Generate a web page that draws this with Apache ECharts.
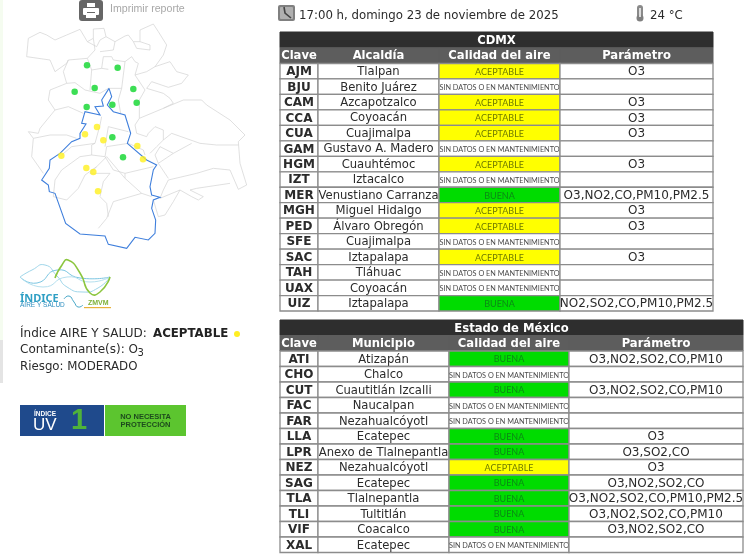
<!DOCTYPE html>
<html>
<head>
<meta charset="utf-8">
<style>html,body{margin:0;padding:0;background:#fff}#chart{width:750px;height:556px}</style>
<script src="https://cdn.jsdelivr.net/npm/echarts@6/dist/echarts.min.js"></script>
</head>
<body>
<div id="chart"></div>
<script>
// Station readings
const ACE = 'ACEPTABLE';
const BUE = 'BUENA';
const SIN = 'SIN DATOS O EN MANTENIMIENTO';

const cdmxClaves = ['AJM','BJU','CAM','CCA','CUA','GAM','HGM','IZT','MER','MGH','PED','SFE','SAC','TAH','UAX','UIZ'];
const cdmxNombres = ['Tlalpan','Benito Juárez','Azcapotzalco','Coyoacán','Cuajimalpa','Gustavo A. Madero','Cuauhtémoc','Iztacalco','Venustiano Carranza','Miguel Hidalgo','Álvaro Obregón','Cuajimalpa','Iztapalapa','Tláhuac','Coyoacán','Iztapalapa'];
const cdmxCalidad = [ACE,SIN,ACE,ACE,ACE,SIN,ACE,SIN,BUE,ACE,ACE,SIN,ACE,SIN,SIN,BUE];
const cdmxParametro = ['O3','','O3','O3','O3','','O3','','O3,NO2,CO,PM10,PM2.5','O3','O3','','O3','','','NO2,SO2,CO,PM10,PM2.5'];

const edomexClaves = ['ATI','CHO','CUT','FAC','FAR','LLA','LPR','NEZ','SAG','TLA','TLI','VIF','XAL'];
const edomexNombres = ['Atizapán','Chalco','Cuautitlán Izcalli','Naucalpan','Nezahualcóyotl','Ecatepec','Anexo de Tlalnepantla','Nezahualcóyotl','Ecatepec','Tlalnepantla','Tultitlán','Coacalco','Ecatepec'];
const edomexCalidad = [BUE,SIN,BUE,SIN,SIN,BUE,BUE,ACE,BUE,BUE,BUE,BUE,SIN];
const edomexParametro = ['O3,NO2,SO2,CO,PM10','','O3,NO2,SO2,CO,PM10','','','O3','O3,SO2,CO','O3','O3,NO2,SO2,CO','O3,NO2,SO2,CO,PM10,PM2.5','O3,NO2,SO2,CO,PM10','O3,NO2,SO2,CO',''];

// Map stations and borders, in map units
const estacionesBuena = [[261,196],[353,203],[400,267],[410,308],[284,264],[224,275],[260,321],[337,314],[337,412],[369,472]];
const estacionesAceptable = [[291,381],[255,403],[310,421],[184,467],[259,504],[280,516],[294,574],[412,438],[429,478]];

const limiteCdmx = [[327,265],[305,300],[310,318],[285,320],[300,345],[255,335],[245,370],[258,372],[240,400],[240,415],[215,425],[180,460],[150,480],[148,505],[125,540],[145,555],[148,575],[165,580],[197,670],[240,702],[315,708],[325,733],[380,745],[405,712],[445,720],[465,700],[467,660],[455,625],[460,600],[480,592],[455,585],[450,560],[460,510],[470,495],[440,480],[382,430],[392,400],[375,345],[340,335],[322,315],[335,290],[327,265]];

const limitesMunicipios = [
  [[80,170],[85,115],[120,97],[140,105],[165,120],[200,105],[240,88],[262,125],[280,115],[280,87],[312,85],[318,110],[345,125],[375,108],[385,105],[400,125],[420,125],[420,90],[460,72],[475,95],[500,135],[490,165],[465,200],[510,185],[530,215],[565,225],[545,250],[505,262],[455,245],[440,265],[490,280],[510,295],[520,310],[490,325],[418,355]],
  [[80,170],[150,180],[165,215],[200,190],[205,180],[262,175],[285,150],[280,115]],
  [[262,125],[290,140],[300,120],[318,110]],
  [[300,155],[340,150],[345,125]],
  [[420,125],[450,135],[450,150],[410,145],[400,125]],
  [[205,180],[190,215],[200,250],[225,248],[255,270],[300,280],[325,265]],
  [[150,270],[200,250]],
  [[150,270],[145,300],[165,330],[205,320],[250,340]],
  [[165,330],[120,385],[115,400],[85,395],[100,415],[95,470],[130,520]],
  [[100,415],[150,405],[200,405],[230,415]],
  [[262,175],[275,210],[305,205],[310,170],[335,170],[340,180],[375,185],[365,265],[325,265]],
  [[325,208],[305,205]],
  [[275,210],[270,270]],
  [[375,185],[395,170],[405,185],[415,190],[405,225],[440,215],[465,200]],
  [[405,225],[435,270],[418,300],[418,355]],
  [[365,265],[355,300],[362,340]],
  [[418,355],[405,375],[410,400],[440,410],[445,400],[465,380],[490,390],[490,420],[470,440],[450,460]],
  [[490,325],[550,300],[605,300],[620,315],[690,360],[735,405],[715,425],[720,490],[740,555],[715,568],[690,510],[640,505],[590,520],[505,540],[490,570],[480,595]],
  [[490,420],[515,400],[600,430],[650,435],[715,435]],
  [[520,460],[575,430]],
  [[520,460],[480,440],[465,465],[475,490],[520,460]],
  [[475,490],[505,535]],
  [[690,550],[590,565],[570,570],[610,590],[595,600],[575,590],[540,570],[480,595]],
  [[540,570],[520,605],[495,645],[475,650],[460,600]],
  [[305,350],[300,375],[285,430],[275,435],[275,465],[315,470],[320,440],[385,430]],
  [[325,380],[385,395]],
  [[325,380],[315,440]],
  [[285,430],[215,440],[185,465]],
  [[275,465],[240,470],[185,510],[165,540],[160,590],[200,600],[235,565],[255,525],[290,500],[320,470]],
  [[320,470],[375,535],[425,580],[340,605],[320,655],[295,685]],
  [[315,470],[340,510],[375,520],[375,535]],
  [[375,520],[460,500]],
  [[290,500],[270,520],[330,520],[310,545],[300,590],[320,610],[325,650]],
  [[385,430],[430,450],[435,465]],
  [[425,580],[455,590]]
];

// Colours by air quality
const calidadFill = { [ACE]: '#ffff00', [BUE]: '#00dc00', [SIN]: '#ffffff' };
const calidadText = { [ACE]: '#6f7a00', [BUE]: '#0a8a14', [SIN]: '#4a4a4a' };

const TEXT_FONT = '"DejaVu Sans", sans-serif';
const TEXT_COLOR = '#2b2b2b';

const chart = echarts.init(document.querySelector('#chart'), null, { renderer: 'canvas' });

const option = {
  animation: false,
  backgroundColor: '#ffffff',
  grid: [],
  xAxis: [],
  yAxis: [],
  series: [],
  graphic: []
};

/**
 * Adds a hidden pair of axes and returns its index
 */
function addGrid(rect, xMax, yAxis) {
  option.grid.push(Object.assign({ show: false }, rect));
  option.xAxis.push({ type: 'value', gridIndex: option.grid.length - 1, min: 0, max: xMax, show: false });
  option.yAxis.push(Object.assign({ gridIndex: option.grid.length - 1, show: false }, yAxis));
  return option.grid.length - 1;
}

/**
 * Draws a cell as a rect with centered text
 */
function cellShape(api, from, to, row, style) {
  const start = api.coord([from, row]);
  const end = api.coord([to, row]);
  const bandHeight = api.size([0, 1])[1];
  return {
    type: 'group',
    children: [
      {
        type: 'rect',
        shape: { x: start[0], y: start[1] - bandHeight / 2, width: end[0] - start[0], height: bandHeight },
        style: { fill: style.fill, stroke: style.stroke, lineWidth: style.lineWidth }
      },
      {
        type: 'text',
        x: (start[0] + end[0]) / 2,
        y: start[1] + 0.8,
        scaleX: style.scaleX || 1,
        style: {
          text: style.text,
          align: 'center',
          verticalAlign: 'middle',
          font: style.font,
          fill: style.color
        }
      }
    ]
  };
}

/**
 * Adds a complete table: title, header and body
 */
function addTable(table) {
  const width = table.edges[table.edges.length - 1];

  // Title and header rows
  const headIndex = addGrid(
    { left: table.left, top: table.top, width: width, height: table.headHeight },
    width,
    { type: 'category', inverse: true, data: ['titulo', 'cabecera'] }
  );
  const headCells = [[0, width, 0, table.title]];
  table.headers.forEach((header, i) => headCells.push([table.edges[i], table.edges[i + 1], 1, header]));
  option.series.push({
    type: 'custom',
    xAxisIndex: headIndex,
    yAxisIndex: headIndex,
    silent: true,
    data: headCells.map((cell, i) => [i]),
    encode: { x: [], y: [] },
    clip: false,
    renderItem: (params, api) => {
      const cell = headCells[api.value(0)];
      const isTitle = cell[2] === 0;
      return cellShape(api, cell[0], cell[1], cell[2], {
        fill: isTitle ? '#2e2e2e' : '#5d5d5d',
        stroke: isTitle ? '#2e2e2e' : '#5d5d5d',
        lineWidth: 1,
        text: cell[3],
        font: 'bold 11.6px ' + TEXT_FONT,
        color: '#ffffff'
      });
    }
  });

  // Body rows
  const bodyIndex = addGrid(
    { left: table.left, top: table.top + table.headHeight, width: width, height: table.bodyHeight },
    width,
    { type: 'category', inverse: true, data: table.claves }
  );
  const bodyCells = [];
  table.claves.forEach((clave, row) => {
    bodyCells.push([0, row, clave, 'bold 12px ' + TEXT_FONT, TEXT_COLOR, '#ffffff']);
    bodyCells.push([1, row, table.nombres[row], '11.6px ' + TEXT_FONT, TEXT_COLOR, '#ffffff']);
    const calidad = table.calidad[row];
    bodyCells.push([2, row, calidad, (calidad === SIN ? '8.4px' : '9px') + ' Lato, sans-serif', calidadText[calidad], calidadFill[calidad], calidad === SIN ? 0.87 : 1]);
    bodyCells.push([3, row, table.parametro[row], '12px ' + TEXT_FONT, TEXT_COLOR, '#ffffff']);
  });
  option.series.push({
    type: 'custom',
    xAxisIndex: bodyIndex,
    yAxisIndex: bodyIndex,
    silent: true,
    data: bodyCells.map((cell, i) => [i]),
    encode: { x: [], y: [] },
    clip: false,
    renderItem: (params, api) => {
      const cell = bodyCells[api.value(0)];
      return cellShape(api, table.edges[cell[0]], table.edges[cell[0] + 1], cell[1], {
        fill: cell[5],
        stroke: '#8c8c8c',
        lineWidth: 1.3,
        text: cell[2],
        font: cell[3],
        color: cell[4],
        scaleX: cell[6]
      });
    }
  });
}

addTable({
  title: 'CDMX',
  headers: ['Clave', 'Alcaldía', 'Calidad del aire', 'Parámetro'],
  claves: cdmxClaves,
  nombres: cdmxNombres,
  calidad: cdmxCalidad,
  parametro: cdmxParametro,
  left: 280,
  top: 32,
  headHeight: 31.5,
  bodyHeight: 247.5,
  edges: [0, 38, 159, 280, 433]
});

addTable({
  title: 'Estado de México',
  headers: ['Clave', 'Municipio', 'Calidad del aire', 'Parámetro'],
  claves: edomexClaves,
  nombres: edomexNombres,
  calidad: edomexCalidad,
  parametro: edomexParametro,
  left: 280,
  top: 320,
  headHeight: 31,
  bodyHeight: 201.5,
  edges: [0, 38, 169, 289, 463]
});

// Map
const mapIndex = addGrid(
  { left: 0, top: 0, width: 270, height: 260 },
  810,
  { type: 'value', inverse: true, min: 0, max: 780 }
);
option.series.push(
  {
    type: 'lines',
    coordinateSystem: 'cartesian2d',
    xAxisIndex: mapIndex,
    yAxisIndex: mapIndex,
    polyline: true,
    silent: true,
    data: limitesMunicipios.map((coords) => ({ coords })),
    lineStyle: { color: '#d2d2d2', width: 0.7, opacity: 1 }
  },
  {
    type: 'lines',
    coordinateSystem: 'cartesian2d',
    xAxisIndex: mapIndex,
    yAxisIndex: mapIndex,
    polyline: true,
    silent: true,
    data: [{ coords: limiteCdmx }],
    lineStyle: { color: '#3f7fdc', width: 1.1, opacity: 1 }
  },
  {
    type: 'scatter',
    xAxisIndex: mapIndex,
    yAxisIndex: mapIndex,
    silent: true,
    symbolSize: 6.5,
    data: estacionesBuena,
    itemStyle: { color: '#0cd62a' }
  },
  {
    type: 'scatter',
    xAxisIndex: mapIndex,
    yAxisIndex: mapIndex,
    silent: true,
    symbolSize: 6.5,
    data: estacionesAceptable,
    itemStyle: { color: '#fff01e' }
  }
);

/**
 * Shorthand for a text element in the page furniture
 */
function label(text, x, y, font, fill, align) {
  return { type: 'text', x: x, y: y, silent: true, style: { text: text, font: font, fill: fill, align: align || 'left', verticalAlign: 'middle' } };
}

function wave(points, stroke, lineWidth) {
  return { type: 'polyline', silent: true, shape: { points: points, smooth: 0.6 }, style: { stroke: stroke, lineWidth: lineWidth, fill: null } };
}

function box(x, y, width, height, fill, r) {
  return { type: 'rect', silent: true, shape: { x: x, y: y, width: width, height: height, r: r || 0 }, style: { fill: fill } };
}

option.graphic = [
  // Page edge
  box(0, 0, 3, 340, '#f5fcf0'),
  box(0, 340, 3, 43, '#e4e4e4'),

  // Print button
  box(79, 0, 24, 21, '#666666', 3),
  box(87, 3, 8, 4, '#ffffff'),
  box(83, 8, 16, 7, '#ffffff', 1),
  box(86, 13, 10, 5, '#ffffff'),
  box(87, 12, 8, 1, '#666666'),
  label('Imprimir reporte', 110, 9.5, '10.6px "Liberation Sans", sans-serif', '#a8a8a8'),

  // Date and temperature
  box(278, 5, 17, 16, '#808080', 2),
  box(280, 7, 13, 12, '#b0b0b0', 1),
  { type: 'polyline', silent: true, shape: { points: [[284, 7], [285, 13], [291, 18]] }, style: { stroke: '#444444', lineWidth: 1.6, fill: null } },
  label('17:00 h, domingo 23 de noviembre de 2025', 299, 15.5, '11.75px ' + TEXT_FONT, TEXT_COLOR),
  box(637, 5, 6, 13, '#8a8a8a', 3),
  { type: 'circle', silent: true, shape: { cx: 640, cy: 18, r: 3.5 }, style: { fill: '#808080' } },
  box(639, 8, 2, 9, '#dddddd'),
  label('24 °C', 650, 15.5, '11.75px ' + TEXT_FONT, TEXT_COLOR),

  // Index logo
  wave([[20, 277], [32, 270], [45, 265], [57, 276], [67, 287], [83, 292], [98, 288], [110, 277]], '#9fd6ea', 1),
  wave([[20, 277], [37, 283], [57, 270], [80, 278], [110, 277]], '#7cc6e2', 1),
  wave([[20, 277], [43, 287], [67, 277], [90, 282], [110, 277]], '#b5e0ef', 1),
  wave([[55, 278], [62, 265], [68, 260], [80, 273], [90, 293], [100, 292], [110, 277]], '#8cc63f', 1.6),
  wave([[64, 299], [69, 296], [74, 302], [78, 307], [83, 305]], '#4aa8c8', 1),
  label('ÍNDICE', 20, 298.5, 'bold 11px "Noto Sans", sans-serif', '#2f9fc4'),
  label('AIRE Y SALUD', 20, 305, '6.5px "Liberation Sans", sans-serif', '#2f8fc0'),
  label('ZMVM', 88, 303, 'bold 7px "Liberation Sans", sans-serif', '#7fb23a'),
  box(84, 307, 27, 1.2, '#e8b23a'),

  // Index text
  label('Índice AIRE Y SALUD:', 20, 334, '12px ' + TEXT_FONT, TEXT_COLOR),
  label('ACEPTABLE', 153, 334, 'bold 11.8px ' + TEXT_FONT, '#222222'),
  { type: 'circle', silent: true, shape: { cx: 237, cy: 334, r: 3 }, style: { fill: '#ffee22' } },
  label('Contaminante(s): O', 20, 350, '12px ' + TEXT_FONT, TEXT_COLOR),
  label('3', 137.5, 353, '10px ' + TEXT_FONT, TEXT_COLOR),
  label('Riesgo: MODERADO', 20, 366.5, '11.8px ' + TEXT_FONT, TEXT_COLOR),

  // UV box
  box(20, 405, 84, 31, '#1f4a8c'),
  label('ÍNDICE', 34, 414, 'bold 6.5px "Liberation Sans", sans-serif', '#ffffff'),
  label('UV', 33, 425, '17px "Liberation Sans", sans-serif', '#ffffff'),
  label('1', 79, 421, 'bold 29px "Liberation Sans", sans-serif', '#4fb23a', 'center'),
  box(105, 405, 81, 31, '#5cc52f'),
  label('NO NECESITA', 145.5, 416.5, 'bold 7.5px "Liberation Sans", sans-serif', '#1d4a1d', 'center'),
  label('PROTECCIÓN', 145.5, 425, 'bold 7.5px "Liberation Sans", sans-serif', '#1d4a1d', 'center')
];

chart.setOption(option);
</script>
</body>
</html>
